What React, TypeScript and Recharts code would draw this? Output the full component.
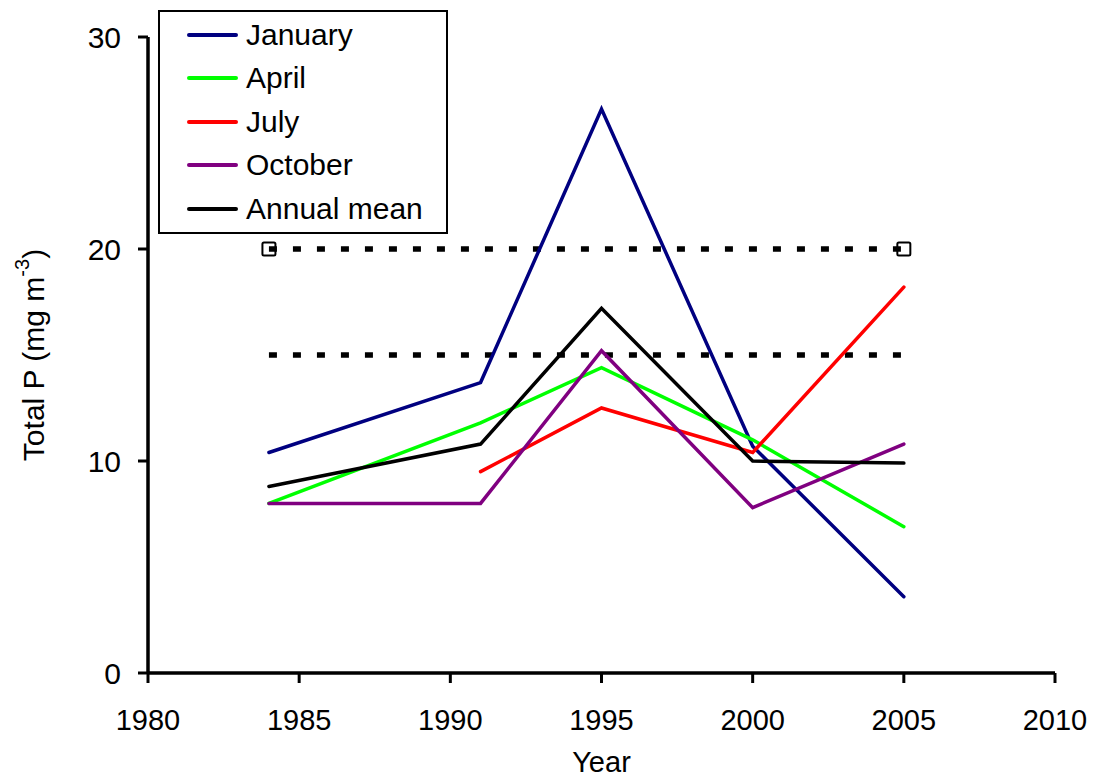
import React from "react";
import {
  LineChart,
  Line,
  XAxis,
  YAxis,
  Legend,
  Label,
} from "recharts";

const years = [1984, 1991, 1995, 2000, 2005];
const january = [10.4, 13.7, 26.6, 10.7, 3.6];
const april = [8.0, 11.8, 14.4, 11.0, 6.9];
const july = [null, 9.5, 12.5, 10.4, 18.2];
const october = [8.0, 8.0, 15.2, 7.8, 10.8];
const annualMean = [8.8, 10.8, 17.2, 10.0, 9.9];

// guideline levels drawn as dotted lines across the sampled years
const guideYears = [1984, 2005];
const upperGuide = [20, 20];
const lowerGuide = [15, 15];

const xTicks = [1980, 1985, 1990, 1995, 2000, 2005, 2010];
const yTicks = [0, 10, 20, 30];

const rows = years.map((year, i) => ({
  year,
  january: january[i],
  april: april[i],
  july: july[i],
  october: october[i],
  annual: annualMean[i],
}));

const upperData = guideYears.map((year, i) => ({ year, v: upperGuide[i] }));
const lowerData = guideYears.map((year, i) => ({ year, v: lowerGuide[i] }));

const FONT = "'Liberation Sans', Arial, sans-serif";

const series = [
  { key: "january", name: "January", color: "#000080" },
  { key: "april", name: "April", color: "#00ff00" },
  { key: "july", name: "July", color: "#ff0000" },
  { key: "october", name: "October", color: "#800080" },
  { key: "annual", name: "Annual mean", color: "#000000" },
];
const seriesOrder = series.map((s) => s.name);

function SquareDot(props: any) {
  const { cx, cy, index } = props;
  if (cx == null || cy == null) return null;
  return (
    <rect
      key={`sq-${index}`}
      x={cx - 6.5}
      y={cy - 6.5}
      width={13}
      height={13}
      rx={1.5}
      fill="none"
      stroke="#000"
      strokeWidth={2}
      strokeDasharray="none"
    />
  );
}

function LegendBox(props: any) {
  const items = (props.payload || [])
    .filter((p: any) => p.type !== "none")
    .slice()
    .sort(
      (a: any, b: any) =>
        seriesOrder.indexOf(a.value) - seriesOrder.indexOf(b.value)
    );
  return (
    <div
      style={{
        border: "2px solid #000",
        background: "#fff",
        width: 286,
        height: 219,
        boxSizing: "content-box",
        paddingTop: 1,
        fontFamily: FONT,
        fontSize: 30,
        color: "#000",
      }}
    >
      {items.map((item: any) => (
        <div
          key={item.value}
          style={{ display: "flex", alignItems: "center", height: 43.5 }}
        >
          <div
            style={{
              marginLeft: 27,
              width: 51,
              height: 4,
              borderRadius: 2,
              background: item.color,
            }}
          />
          <span style={{ marginLeft: 8, lineHeight: "30px" }}>{item.value}</span>
        </div>
      ))}
    </div>
  );
}

function YTitle() {
  const cx = 33;
  const cy = 355;
  return (
    <text
      x={cx}
      y={cy}
      transform={`rotate(-90, ${cx}, ${cy})`}
      textAnchor="middle"
      dominantBaseline="central"
      fontFamily={FONT}
      fontSize={30}
      fill="#000"
    >
      Total P (mg m
      <tspan dy={-11} fontSize={20}>
        -3
      </tspan>
      <tspan dy={11}>)</tspan>
    </text>
  );
}

export default function App() {
  return (
    <div style={{ position: "fixed", left: 0, top: 0, background: "#fff" }}>
      <LineChart
        width={1093}
        height={778}
        data={rows}
        margin={{ top: 37, right: 38, left: 0, bottom: 0 }}
      >
        <XAxis
          dataKey="year"
          type="number"
          domain={[1980, 2010]}
          ticks={xTicks}
          allowDataOverflow
          height={105}
          tickSize={10}
          tickMargin={26}
          axisLine={{ stroke: "#000", strokeWidth: 3.5 }}
          tickLine={{ stroke: "#000", strokeWidth: 3 }}
          tick={{ fill: "#000", fontSize: 29, fontFamily: FONT }}
          interval={0}
        >
          <Label
            value="Year"
            position="insideBottom"
            offset={6}
            fill="#000"
            fontSize={29}
            fontFamily={FONT}
          />
        </XAxis>
        <YAxis
          type="number"
          domain={[0, 30]}
          ticks={yTicks}
          width={148}
          tickSize={10}
          tickMargin={17}
          axisLine={{ stroke: "#000", strokeWidth: 3.5 }}
          tickLine={{ stroke: "#000", strokeWidth: 3 }}
          tick={{ fill: "#000", fontSize: 30, fontFamily: FONT }}
          interval={0}
        >
          <Label content={<YTitle />} />
        </YAxis>
        <Legend
          layout="vertical"
          align="center"
          verticalAlign="middle"
          content={<LegendBox />}
          wrapperStyle={{ left: 158, top: 10, width: 290, height: 223 }}
        />
        <Line
          data={upperData}
          dataKey="v"
          stroke="#000"
          strokeWidth={5.5}
          strokeDasharray="8 16"
          dot={<SquareDot />}
          activeDot={false}
          legendType="none"
          isAnimationActive={false}
        />
        <Line
          data={lowerData}
          dataKey="v"
          stroke="#000"
          strokeWidth={5.5}
          strokeDasharray="8 16"
          dot={false}
          activeDot={false}
          legendType="none"
          isAnimationActive={false}
        />
        {series.map((s) => (
          <Line
            key={s.key}
            type="linear"
            dataKey={s.key}
            name={s.name}
            stroke={s.color}
            strokeWidth={3.5}
            strokeLinecap="round"
            dot={false}
            activeDot={false}
            legendType="line"
            isAnimationActive={false}
          />
        ))}
      </LineChart>
    </div>
  );
}
